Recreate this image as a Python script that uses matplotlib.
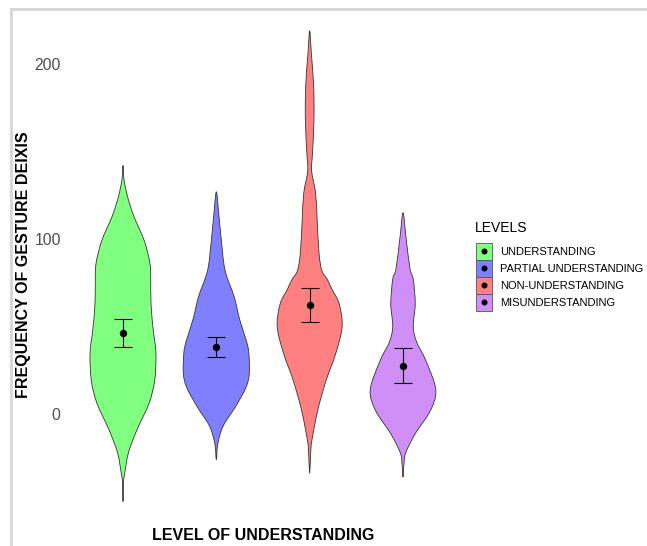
import matplotlib.pyplot as plt
from matplotlib.path import Path
from matplotlib.patches import PathPatch, Patch, Rectangle
from matplotlib.lines import Line2D
import numpy as np

plt.rcParams['font.family'] = ['Liberation Sans', 'DejaVu Sans']

levels = ['UNDERSTANDING', 'PARTIAL UNDERSTANDING', 'NON-UNDERSTANDING', 'MISUNDERSTANDING']
colors = ['#80ff80', '#8080ff', '#ff8080', '#d08ff7']

# violin outlines: y value and half width (in category units)
green_y = [142, 134, 124, 113, 99, 86, 77, 63, 48, 35, 19, 6, -9, -22, -34, -39, -50]
green_w = [0, 0.011, 0.050, 0.116, 0.228, 0.289, 0.297, 0.300, 0.324, 0.353, 0.339, 0.278, 0.150, 0.059, 0.018, 0.005, 0]
blue_y = [127, 115, 99, 82, 67, 54, 42, 35, 23, 15, 4, -7, -17, -26]
blue_w = [0, 0.025, 0.054, 0.094, 0.191, 0.250, 0.321, 0.348, 0.353, 0.316, 0.203, 0.072, 0.016, 0]
red_y = [219, 206, 187, 168, 149, 139, 126, 111, 92, 82, 77, 71, 63, 50, 35, 19, 2, -15, -22, -34]
red_w = [0, 0.018, 0.043, 0.046, 0.030, 0.021, 0.064, 0.080, 0.100, 0.130, 0.188, 0.241, 0.316, 0.348, 0.282, 0.175, 0.086, 0.024, 0.011, 0]
purple_y = [115, 101, 83, 77, 63, 50, 41, 31, 14, 2, -11, -22, -28, -36]
purple_w = [0, 0.032, 0.075, 0.110, 0.131, 0.110, 0.147, 0.241, 0.351, 0.294, 0.134, 0.030, 0.011, 0]

# mean and error bar limits
means = [46.5, 38.1, 62.3, 27.4]
err_low = [38.5, 32.4, 52.7, 17.5]
err_high = [54.5, 44.2, 71.8, 37.5]

profiles = [(green_y, green_w), (blue_y, blue_w), (red_y, red_w), (purple_y, purple_w)]


def violin_path(pos, ys, ws):
    # closed outline: right side top -> bottom, left side bottom -> top
    pts = [(pos + w, y) for y, w in zip(ys, ws)]
    pts += [(pos - w, y) for y, w in zip(ys[-2:0:-1], ws[-2:0:-1])]
    pts = np.array(pts)
    n = len(pts)
    verts = [pts[0]]
    codes = [Path.MOVETO]
    for i in range(n):
        p0, p1, p2, p3 = pts[i - 1], pts[i], pts[(i + 1) % n], pts[(i + 2) % n]
        c1 = p1 + (p2 - p0) / 6
        c2 = p2 - (p3 - p1) / 6
        verts += [c1, c2, p2]
        codes += [Path.CURVE4] * 3
    return Path(verts, codes)


class KeyHandler:
    # filled square with a black dot in the middle, like the ggplot key
    def legend_artist(self, legend, orig_handle, fontsize, handlebox):
        x0, y0 = handlebox.xdescent, handlebox.ydescent
        w, h = handlebox.width, handlebox.height
        rect = Rectangle((-x0, -y0), w, h, facecolor=orig_handle.get_facecolor(),
                         edgecolor='#555555', lw=0.6, transform=handlebox.get_transform())
        dot = Line2D([-x0 + w / 2], [-y0 + h / 2], marker='o', color='black', ms=3.3,
                     transform=handlebox.get_transform())
        handlebox.add_artist(rect)
        handlebox.add_artist(dot)
        return rect


fig = plt.figure(figsize=(6.47, 5.46), dpi=100)
ax = fig.add_axes([67 / 647, 31 / 546, 392 / 647, 490 / 546])

for i, (ys, ws) in enumerate(profiles):
    ax.add_patch(PathPatch(violin_path(i + 1, ys, ws), facecolor=colors[i],
                           edgecolor='#333333', lw=0.6))

x = np.arange(1, 5)
ax.errorbar(x, means, yerr=[np.array(means) - err_low, np.array(err_high) - means],
            fmt='o', color='black', ms=4.3, capsize=6.5, elinewidth=0.8, capthick=0.8)

ax.set_xlim(0.4, 4.6)
ax.set_ylim(-57.7, 222.3)
ax.set_xticks([])
ax.set_yticks([0, 100, 200])
ax.tick_params(axis='y', length=0, pad=4.5, labelsize=11.3, labelcolor='#4d4d4d')
for s in ax.spines.values():
    s.set_visible(False)

fig.text(263 / 647, 1 - 536 / 546, 'LEVEL OF UNDERSTANDING', ha='center', va='center',
         fontsize=11.5, fontweight='bold')
fig.text(24 / 647, 1 - 265 / 546, 'FREQUENCY OF GESTURE DEIXIS', ha='center', va='center',
         rotation=90, fontsize=11.5, fontweight='bold')

fig.text(475 / 647, 1 - 228 / 546, 'LEVELS', ha='left', va='center', fontsize=10)
handles = [Patch(facecolor=c) for c in colors]
leg = fig.legend(handles, levels, loc='upper left', handler_map={Patch: KeyHandler()},
                 bbox_to_anchor=(476 / 647, 1 - 242.5 / 546), frameon=False,
                 fontsize=8, handlelength=1.44, handleheight=1.98,
                 labelspacing=0.0, handletextpad=0.75, borderaxespad=0, borderpad=0)

# light grey frame at the top and left
fig.add_artist(Line2D([11 / 647, 11 / 647], [0, 1 - 9 / 546], color='#d6d6d6', lw=2,
                      transform=fig.transFigure))
fig.add_artist(Line2D([11 / 647, 1], [1 - 9 / 546, 1 - 9 / 546], color='#d6d6d6', lw=2,
                      transform=fig.transFigure))

fig.savefig('out.png', dpi=100)
